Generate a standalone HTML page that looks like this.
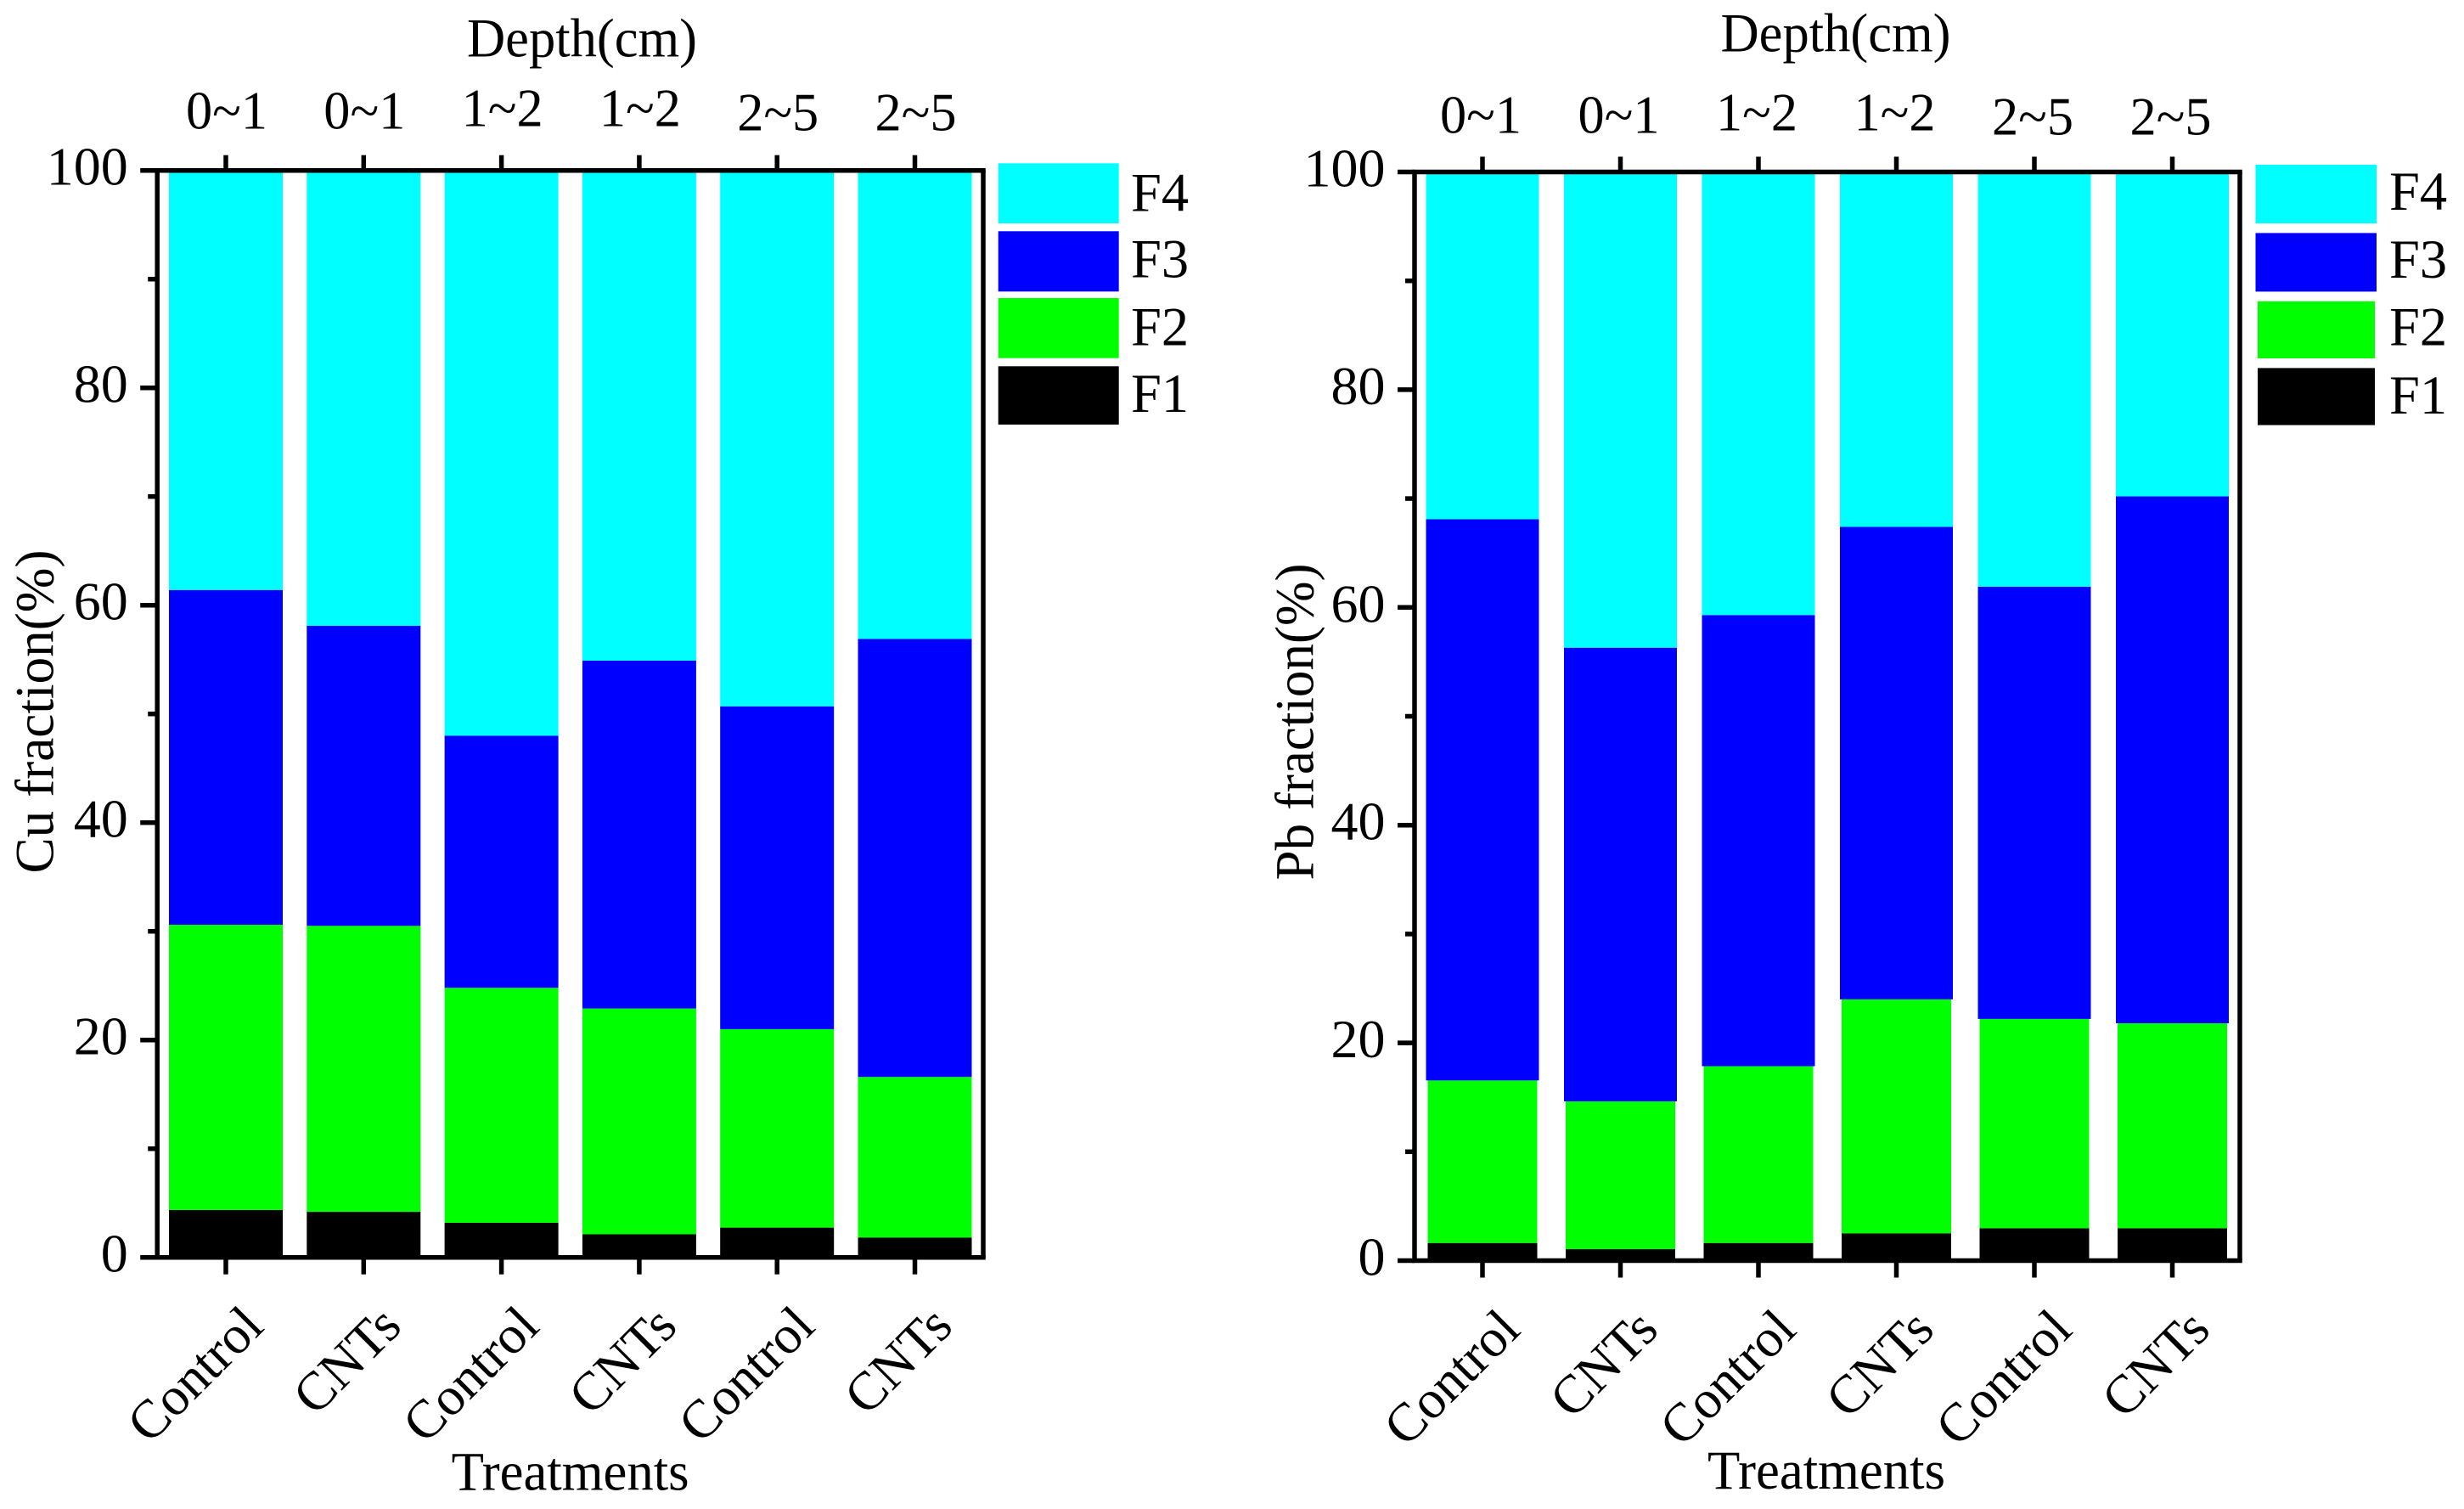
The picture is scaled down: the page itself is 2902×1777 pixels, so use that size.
<!DOCTYPE html>
<html lang="en">
<head>
<meta charset="utf-8">
<title>Cu and Pb fractions by depth and treatment</title>
<style>
html,body{margin:0;padding:0;background:#fff;}
svg{display:block;}
text{font-family:"Liberation Serif","Times New Roman",serif;fill:#000;}
</style>
</head>
<body>
<svg id="figure" xmlns="http://www.w3.org/2000/svg" width="2902" height="1777" viewBox="0 0 2902 1777">
  <rect x="0" y="0" width="2902" height="1777" fill="#fff"/>

  <g id="panel-cu"></g>
  <g id="panel-pb"></g>

  <text x="685.5" y="66.5" font-size="65" text-anchor="middle" textLength="271" lengthAdjust="spacingAndGlyphs">Depth(cm)</text>
  <text x="671.6" y="1754.5" font-size="65" text-anchor="middle" textLength="280" lengthAdjust="spacingAndGlyphs">Treatments</text>
  <text transform="translate(62.5,838) rotate(-90)" font-size="65" text-anchor="middle" textLength="381" lengthAdjust="spacingAndGlyphs">Cu fraction(%)</text>

  <text x="2162" y="60.5" font-size="65" text-anchor="middle" textLength="271" lengthAdjust="spacingAndGlyphs">Depth(cm)</text>
  <text x="2151" y="1753" font-size="65" text-anchor="middle" textLength="280" lengthAdjust="spacingAndGlyphs">Treatments</text>
  <text transform="translate(1546.5,850) rotate(-90)" font-size="65" text-anchor="middle" textLength="373" lengthAdjust="spacingAndGlyphs">Pb fraction(%)</text>

  <g font-size="64.5">
    <rect x="1175.7" y="192.3" width="142" height="70.7" fill="#00ffff"/>
    <text x="1332" y="248.3">F4</text>
    <rect x="1175.7" y="272.3" width="142" height="71" fill="#0000ff"/>
    <text x="1332" y="326.7">F3</text>
    <rect x="1175.7" y="351" width="142" height="70.7" fill="#00ff00"/>
    <text x="1332" y="406.7">F2</text>
    <rect x="1175.7" y="431.3" width="142" height="68.7" fill="#000000"/>
    <text x="1332" y="485">F1</text>
  </g>

  <g font-size="64.5">
    <rect x="2656.5" y="194" width="142.5" height="69" fill="#00ffff"/>
    <text x="2814" y="246.8">F4</text>
    <rect x="2656.5" y="274.4" width="142.5" height="69" fill="#0000ff"/>
    <text x="2814" y="327">F3</text>
    <rect x="2659" y="354.8" width="138" height="67.2" fill="#00ff00"/>
    <text x="2814" y="406.4">F2</text>
    <rect x="2659" y="433.4" width="138" height="67.2" fill="#000000"/>
    <text x="2814" y="486.8">F1</text>
  </g>
</svg>

<script>
// Chart data
const treatments = ["Control", "CNTs", "Control", "CNTs", "Control", "CNTs"];
const depths = ["0~1", "0~1", "1~2", "1~2", "2~5", "2~5"];
const yTickLabels = [0, 20, 40, 60, 80, 100];
const yMinorTicks = [10, 30, 50, 70, 90];
const seriesNames = ["F1", "F2", "F3", "F4"];
const seriesColors = ["#000000", "#00ff00", "#0000ff", "#00ffff"];

const cuF1 = [4.36, 4.19, 3.18, 2.13, 2.74, 1.83];
const cuF2 = [26.24, 26.31, 21.62, 20.77, 18.26, 14.77];
const cuF3 = [30.8, 27.6, 23.2, 32.0, 29.7, 40.3];
const cuF4 = [38.6, 41.9, 52.0, 45.1, 49.3, 43.1];

const pbF1 = [1.62, 1.05, 1.62, 2.5, 2.97, 2.97];
const pbF2 = [14.93, 13.58, 16.24, 21.5, 19.23, 18.83];
const pbF3 = [51.55, 41.67, 41.44, 43.4, 39.7, 48.4];
const pbF4 = [31.9, 43.7, 40.7, 32.6, 38.1, 29.8];

const SVG_NS = "http://www.w3.org/2000/svg";
const depthLabelShift = { "0~1": 0, "1~2": -3, "2~5": 2 };

function make(parent, tag, attrs) {
  const el = document.createElementNS(SVG_NS, tag);
  for (const key in attrs) el.setAttribute(key, attrs[key]);
  parent.appendChild(el);
  return el;
}

function drawPanel(root, prefix, geometry, series) {
  const yAxis = function (v) {
    return geometry.y0 + (geometry.y100 - geometry.y0) * v / 100;
  };
  const xAxis = function (i) {
    return geometry.xFirst + geometry.xStep * i;
  };

  // stacked bars
  treatments.forEach(function (treatment, i) {
    let cumulative = 0;
    series.forEach(function (values, s) {
      const bottom = cumulative;
      cumulative += values[i];
      const inset = s < 2 ? geometry.lowerInset : 0;
      const yTop = yAxis(s === series.length - 1 ? Math.min(cumulative, 100) : cumulative);
      const yBottom = yAxis(bottom);
      const bar = make(root, "rect", {
        x: xAxis(i) - geometry.barWidth / 2 + inset,
        y: yTop,
        width: geometry.barWidth - inset * 2,
        height: Math.max(0, yBottom - yTop),
        fill: seriesColors[s]
      });
      
      
    });
  });

  const stroke = { stroke: "#000", "stroke-width": geometry.spine, fill: "none" };

  // frame
  const spineL = make(root, "line", Object.assign({ x1: geometry.left, x2: geometry.left, y1: yAxis(100), y2: yAxis(0) }, stroke));
  
  
  const spineR = make(root, "line", Object.assign({ x1: geometry.right, x2: geometry.right, y1: yAxis(100), y2: yAxis(0) }, stroke));
  
  
  const half = geometry.spine / 2;
  const spineT = make(root, "line", Object.assign({ x1: geometry.left - half, x2: geometry.right + half, y1: yAxis(100), y2: yAxis(100) }, stroke));
  
  
  const spineB = make(root, "line", Object.assign({ x1: geometry.left - half, x2: geometry.right + half, y1: yAxis(0), y2: yAxis(0) }, stroke));
  
  

  // y major ticks and labels
  yTickLabels.forEach(function (v) {
    const tick = make(root, "line", Object.assign({ x1: geometry.left - geometry.majorLeft, x2: geometry.left, y1: yAxis(v), y2: yAxis(v) }, stroke));
    
    
    const label = make(root, "text", { x: geometry.left - 34.5, y: yAxis(v) + 17, "font-size": 64, "text-anchor": "end" });
    label.textContent = String(v);
    
    
  });

  // y minor ticks
  yMinorTicks.forEach(function (v) {
    const tick = make(root, "line", Object.assign({ x1: geometry.left - 11, x2: geometry.left, y1: yAxis(v), y2: yAxis(v) }, stroke));
    
    
  });

  // x ticks, treatment labels and depth labels
  treatments.forEach(function (treatment, i) {
    const x = xAxis(i);
    const bottomTick = make(root, "line", Object.assign({ x1: x, x2: x, y1: yAxis(0), y2: yAxis(0) + 20 }, stroke));
    
    
    const topTick = make(root, "line", Object.assign({ x1: x, x2: x, y1: yAxis(100), y2: yAxis(100) - 18 }, stroke));
    
    

    const label = make(root, "text", {
      transform: "translate(" + (x + 47) + "," + (yAxis(0) + 84) + ") rotate(-45)",
      "font-size": 63.5,
      "text-anchor": "end"
    });
    label.textContent = treatment;
    
    

    const depth = make(root, "text", {
      x: x + geometry.depthDx,
      y: geometry.depthBaseline + depthLabelShift[depths[i]],
      "font-size": 64,
      "text-anchor": "middle",
      textLength: 96,
      lengthAdjust: "spacingAndGlyphs"
    });
    depth.textContent = depths[i];
    
    
  });
}

drawPanel(document.getElementById("panel-cu"), "cu", {
  y0: 1480.7, y100: 200.7, left: 185.2, right: 1158,
  xFirst: 266, xStep: 162.3, barWidth: 134, lowerInset: 0,
  spine: 5.5, majorLeft: 20, depthDx: 1, depthBaseline: 151.5
}, [cuF1, cuF2, cuF3, cuF4]);

drawPanel(document.getElementById("panel-pb"), "pb", {
  y0: 1484.5, y100: 202.5, left: 1666, right: 2638,
  xFirst: 1746, xStep: 162.5, barWidth: 133, lowerInset: 2,
  spine: 5.5, majorLeft: 20, depthDx: -2, depthBaseline: 156.5
}, [pbF1, pbF2, pbF3, pbF4]);
</script>
</body>
</html>
